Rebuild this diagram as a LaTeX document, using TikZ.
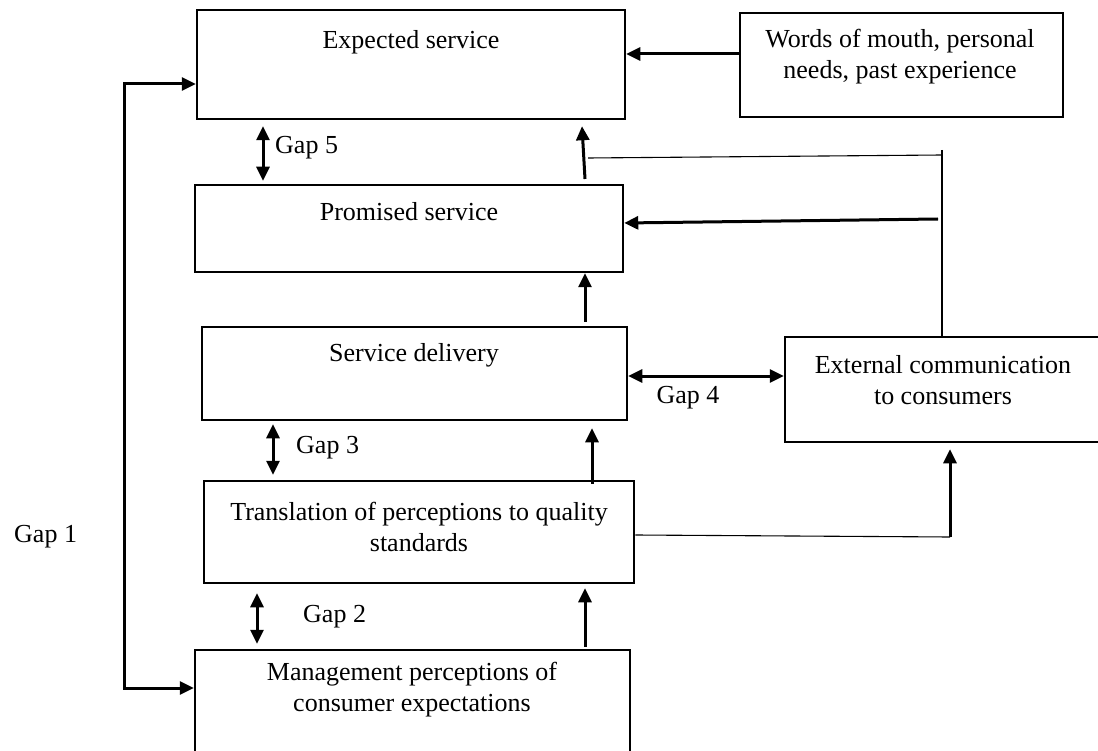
\documentclass[tikz,border=0pt]{standalone}
\usepackage{fontspec}
\setmainfont{Liberation Serif}
\usetikzlibrary{arrows.meta,calc}
\begin{document}
\begin{tikzpicture}[x=1pt,y=-1pt,
  box/.style={draw, line width=2.5pt, inner sep=0pt, rectangle},
  txt/.style={font=\fontsize{26}{31}\selectfont, align=center, inner sep=0pt},
  arr/.style={line width=3pt, -{Triangle[length=14pt,width=13pt]}},
  darr/.style={line width=3pt, {Triangle[length=14pt,width=13pt]}-{Triangle[length=14pt,width=13pt]}},
  thinline/.style={line width=1.1pt}]
\useasboundingbox (0,0) rectangle (1098,751);
% boxes
\node[box, minimum width=428pt, minimum height=109pt] (exp) at (411,64.5) {};
\node[box, minimum width=323pt, minimum height=104pt] (wom) at (901.5,65) {};
\node[box, minimum width=428pt, minimum height=87pt] (prom) at (409,228.5) {};
\node[box, minimum width=425pt, minimum height=93pt] (sd) at (414.5,373.5) {};
\node[box, minimum width=316pt, minimum height=105pt] (ext) at (943,389.5) {};
\node[box, minimum width=430pt, minimum height=102pt] (tr) at (419,532) {};
\node[box, minimum width=435pt, minimum height=120pt] (mg) at (412.5,710) {};
% texts
\node[txt] (expT) at (411,42) {Expected service};
\node[txt] (womT) at (900,57) {Words of mouth, personal\\needs, past experience};
\node[txt] (promT) at (409,212) {Promised service};
\node[txt] (sdT) at (414,355) {Service delivery};
\node[txt] (extT) at (943,380) {External communication\\to consumers};
\node[txt] (trT) at (419,527) {Translation of perceptions to quality\\standards};
\node[txt] (mgT) at (412,690) {Management perceptions of\\consumer expectations};
\node[txt, anchor=west] (g5) at (275,148) {Gap 5};
\node[txt, anchor=west] (g3) at (296,448) {Gap 3};
\node[txt, anchor=west] (g2) at (303,617) {Gap 2};
\node[txt, anchor=west] (g1) at (14,537) {Gap 1};
\node[txt] (g4) at (688,398) {Gap 4};
% helper coordinates
\coordinate (g1t) at (124,84);
\coordinate (g1b) at (124,688);
\coordinate (x263) at (263,0);
\coordinate (x273) at (273,0);
\coordinate (x257) at (257,0);
\coordinate (x585) at (585,0);
\coordinate (x592) at (592,0);
\coordinate (y376) at (0,376);
\coordinate (pe1) at (585,179);
\coordinate (pe2) at (582,0);
\coordinate (t1) at (588,158);
\coordinate (t2) at (942,155);
\coordinate (t3) at (942,150);
\coordinate (pa) at (938,219);
\coordinate (c1) at (950,537);
% connectors
\draw[arr] ([yshift=11pt]wom.west) -- ([yshift=11pt]wom.west -| exp.east);
\draw[darr] (g1t -| exp.west) -- (g1t) -- (g1b) -- (g1b -| mg.west);
\draw[darr] ([yshift=-6pt]exp.south -| x263) -- ([yshift=3pt]prom.north -| x263);
\draw[darr] ([yshift=-3pt]sd.south -| x273) -- ([yshift=5pt]tr.north -| x273);
\draw[darr] ([yshift=-9pt]tr.south -| x257) -- ([yshift=5pt]mg.north -| x257);
\draw[darr] (y376 -| sd.east) -- (y376 -| ext.west);
\draw[arr] (pe1) -- ([yshift=-6pt]exp.south -| pe2);
\draw[thinline] (t1) -- (t2);
\draw[thinline] (t3) -- (t3 |- ext.north);
\draw[arr] (pa) -- ([yshift=5.5pt]prom.east);
\draw[arr] ([yshift=4pt]sd.north -| x585) -- (prom.south -| x585);
\draw[arr] ([yshift=-4pt]tr.north -| x592) -- ([yshift=-7pt]sd.south -| x592);
\draw[arr] ([yshift=2pt]mg.north -| x585) -- ([yshift=-4pt]tr.south -| x585);
\draw[thinline] ([yshift=-3pt]tr.east) -- (c1);
\draw[arr] (c1) -- ([yshift=-6pt]ext.south -| c1);
\end{tikzpicture}
\end{document}
